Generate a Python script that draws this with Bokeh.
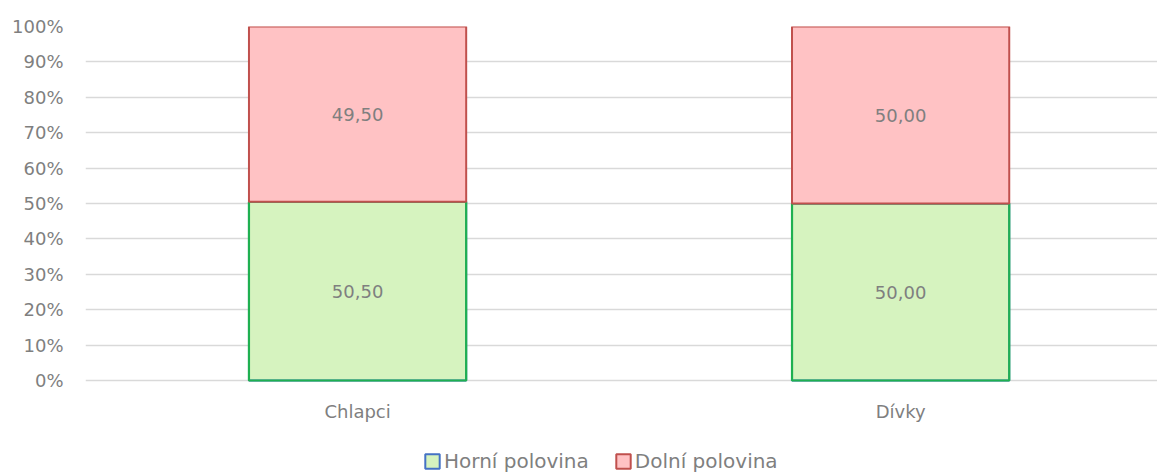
from bokeh.plotting import figure
from bokeh.models import Range1d, FixedTicker, NumeralTickFormatter, ColumnDataSource, Legend, LegendItem, LabelSet
from bokeh.core.properties import value
from bokeh.embed import file_html
from bokeh.resources import INLINE

categories = ["Chlapci", "Dívky"]
horni = [50.50, 50.00]
dolni = [49.50, 50.00]
series_names = ["Horní polovina", "Dolní polovina"]
y_ticks = [0, 10, 20, 30, 40, 50, 60, 70, 80, 90, 100]

FONT = "DejaVu Sans"
TXT = "#7f7f7f"

xs = [i + 0.5 for i in range(len(categories))]
h_frac = [v / 100 for v in horni]
d_frac = [v / 100 for v in dolni]
top_all = [a + b for a, b in zip(h_frac, d_frac)]

src = ColumnDataSource(dict(
    x=xs, h=h_frac, d=d_frac, top_all=top_all, zero=[0.0] * len(xs), cat=categories,
    h_mid=[v / 2 for v in h_frac],
    d_mid=[a + b / 2 for a, b in zip(h_frac, d_frac)],
    h_lab=[f"{v:.2f}".replace(".", ",") for v in horni],
    d_lab=[f"{v:.2f}".replace(".", ",") for v in dolni],
))

# frame spans the full lower area (0% sits 93px above the bottom edge)
H, TOP = 473, 26
frame_h = H - TOP
px_per_unit = (380 - TOP)
ymin = -(frame_h - px_per_unit) / px_per_unit

p = figure(width=1157, height=H, output_backend="svg", toolbar_location=None,
           x_range=Range1d(-0.001, 1.973), y_range=Range1d(ymin, 1),
           min_border_left=85, min_border_right=0, min_border_top=TOP, min_border_bottom=0)
p.outline_line_color = None

BAR_W = 0.40
GREEN, RED = "#d6f3bf", "#ffc2c4"
# green bars: blue border (shown in legend), overdrawn by green outline
r_h = p.vbar(x="x", bottom=0, top="h", width=BAR_W, source=src,
             fill_color=GREEN, line_color="#4472c4", line_width=2)
p.vbar(x="x", bottom=0, top="h", width=BAR_W, source=src,
       fill_color=None, line_color="#1fb050", line_width=2.2)
r_d = p.vbar(x="x", bottom="h", top="top_all", width=BAR_W, source=src,
             fill_color=RED, line_color="#c0504d", line_width=2)

for ycol, tcol in (("h_mid", "h_lab"), ("d_mid", "d_lab")):
    p.add_layout(LabelSet(x="x", y=ycol, text=tcol, source=src, text_align="center",
                          text_baseline="middle", text_color=TXT,
                          text_font=value(FONT), text_font_size="18px"))

# category labels under the 0% line
p.add_layout(LabelSet(x="x", y="zero", text="cat", source=src, text_align="center",
                      text_baseline="middle", text_color=TXT, y_offset=-31,
                      text_font=value(FONT), text_font_size="18px"))

legend = Legend(items=[LegendItem(label=series_names[0], renderers=[r_h]),
                       LegendItem(label=series_names[1], renderers=[r_d])],
                orientation="horizontal", location=(338, 0),
                glyph_width=18, glyph_height=18, label_text_font=FONT, label_text_font_size="20px",
                label_text_color=TXT, border_line_color=None, background_fill_alpha=0,
                padding=0, margin=0, spacing=25, label_standoff=3)
p.add_layout(legend, "center")

p.xaxis.visible = False

p.yaxis.ticker = FixedTicker(ticks=[t / 100 for t in y_ticks])
p.yaxis.formatter = NumeralTickFormatter(format="0%")
p.yaxis.axis_line_color = None
p.yaxis.major_tick_line_color = None
p.yaxis.minor_tick_line_color = None
p.yaxis.major_label_standoff = 16
p.yaxis.major_label_text_font = FONT
p.yaxis.major_label_text_font_size = "18px"
p.yaxis.major_label_text_color = TXT

p.xgrid.grid_line_color = None
p.ygrid.grid_line_color = "#d9d9d9"
p.ygrid.grid_line_width = 1.5

open("out.html", "w").write(file_html(p, INLINE))
